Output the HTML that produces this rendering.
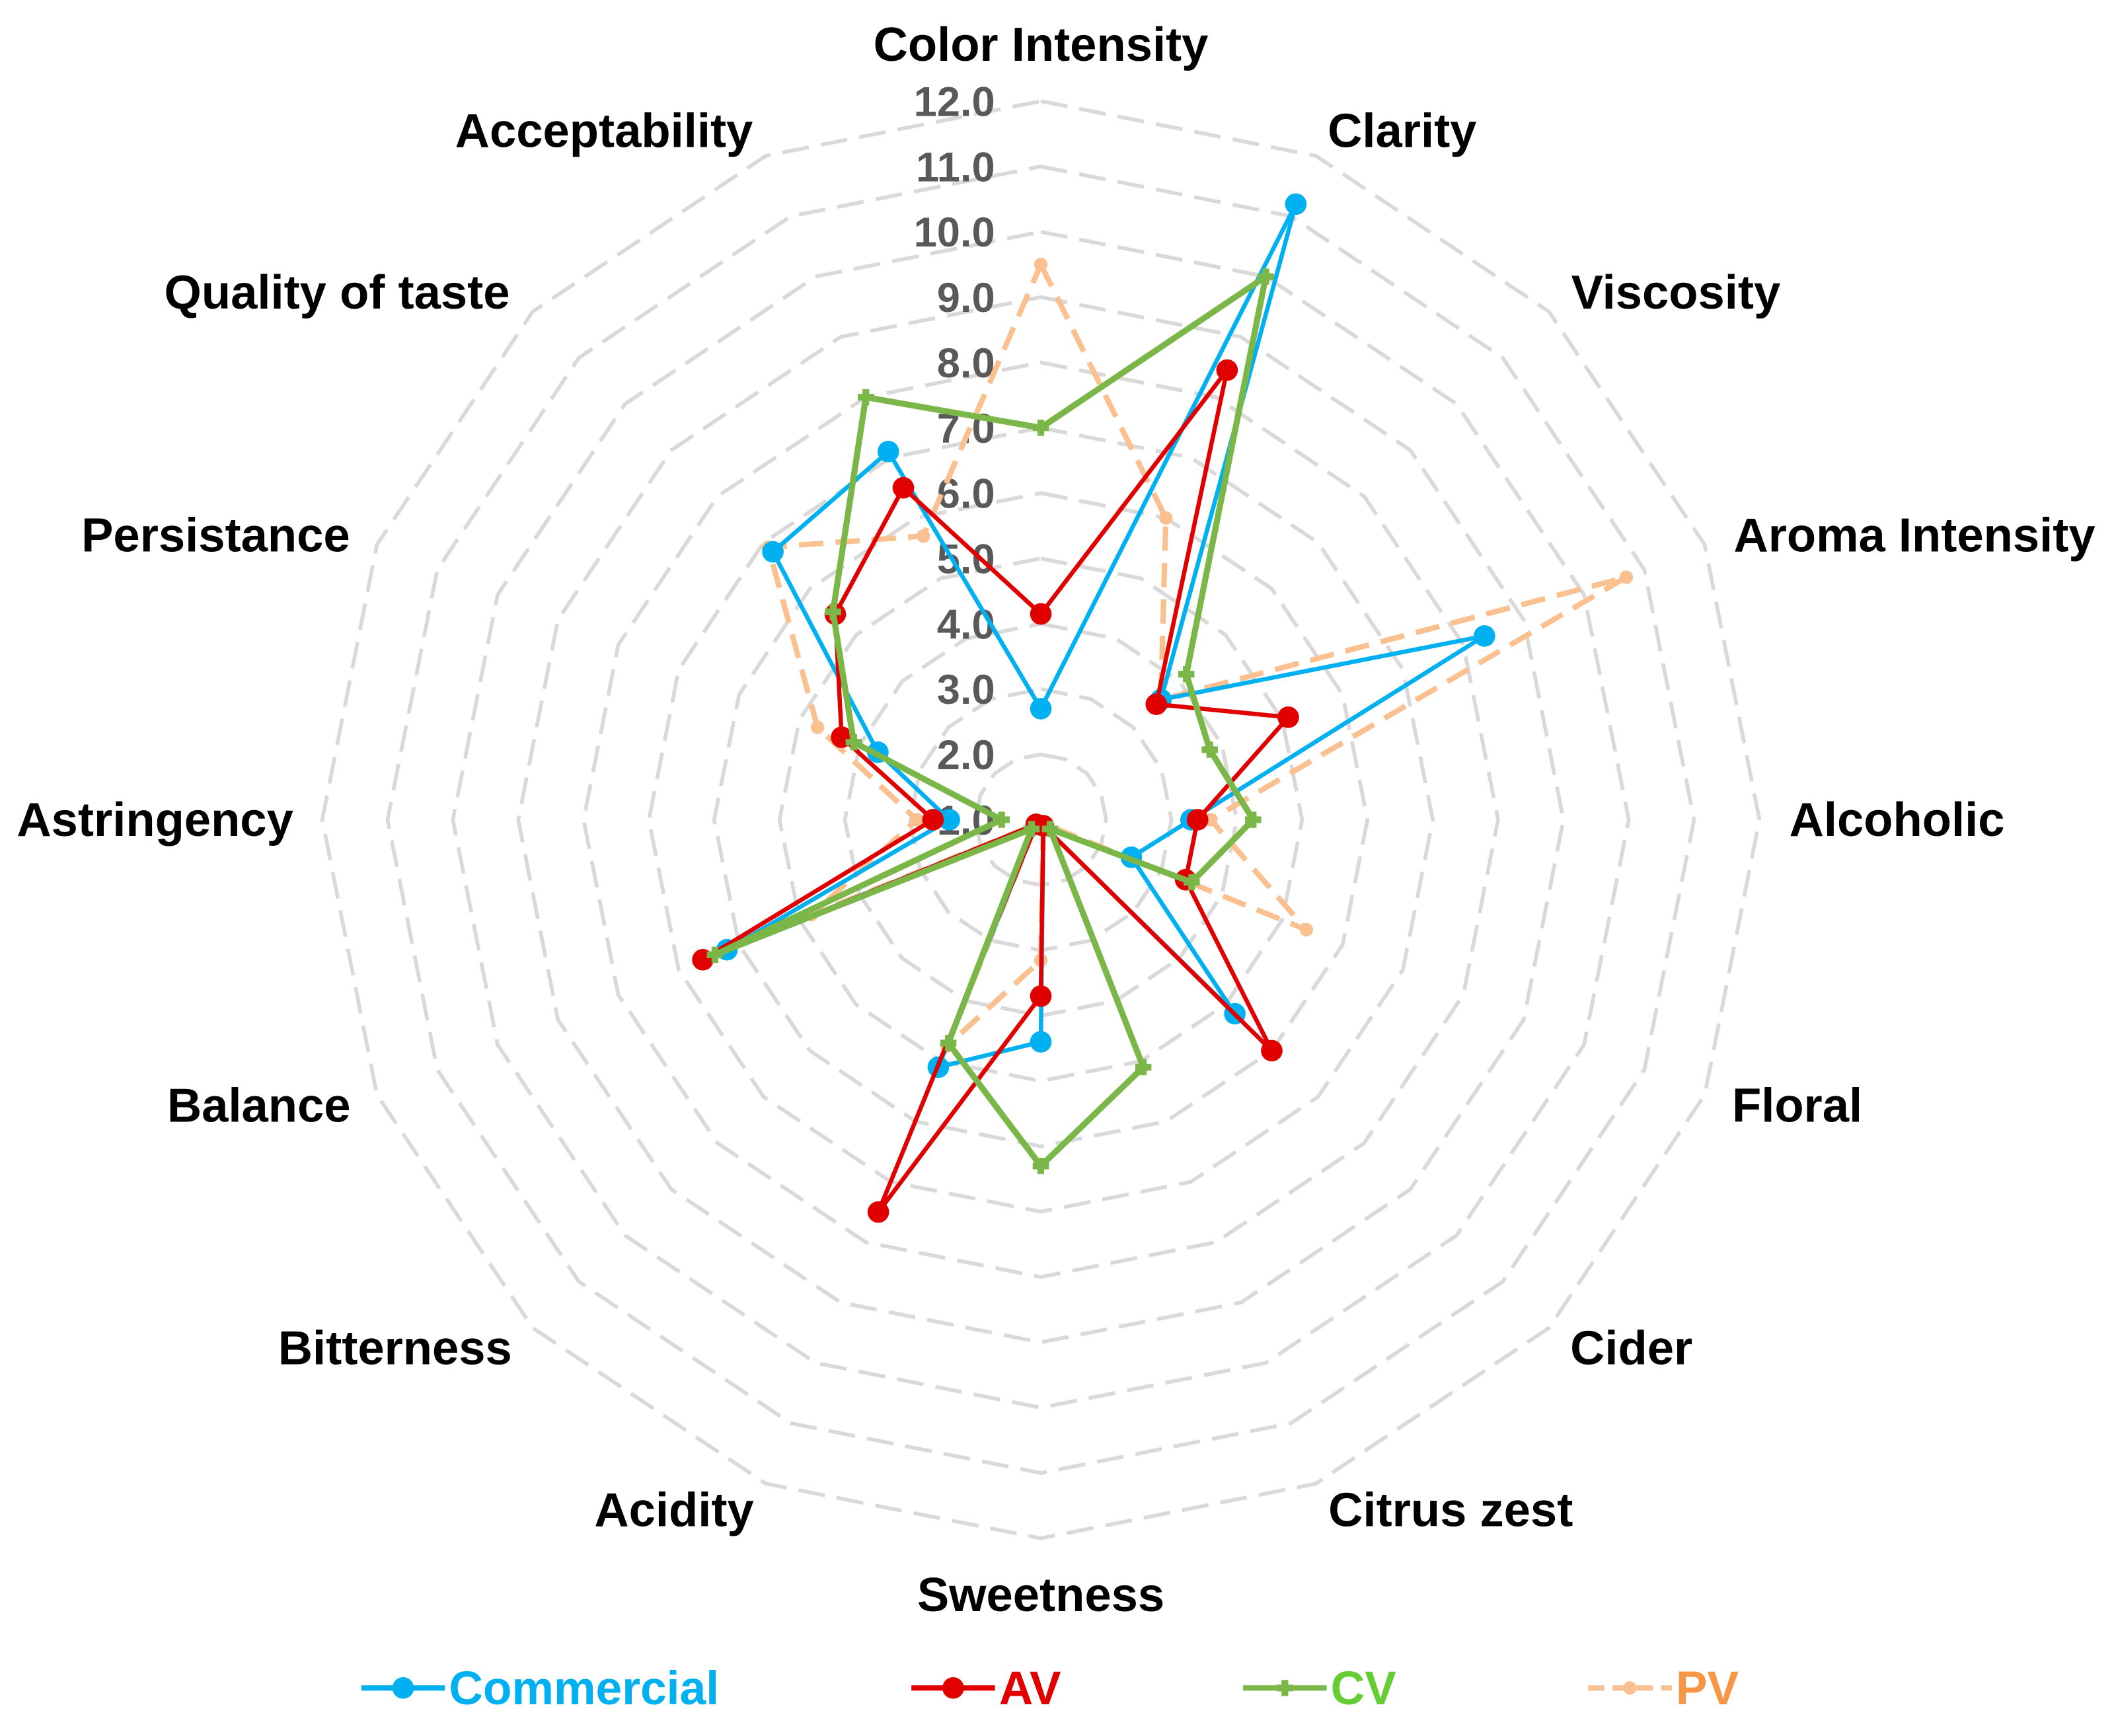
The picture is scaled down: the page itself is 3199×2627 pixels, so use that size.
<!DOCTYPE html>
<html><head><meta charset="utf-8"><style>
html,body{margin:0;padding:0;background:#fff;}
svg{display:block;font-family:"Liberation Sans",Arial,sans-serif;}
</style></head><body>
<svg id="chart" width="3199" height="2627" viewBox="0 0 1568 1287.6" xmlns="http://www.w3.org/2000/svg">
<g id="grid"></g>
<g id="ticks"></g>
<g id="cats"></g>
<g id="series"></g>
<g id="legend"></g>
</svg>
<script>
const categories=["Color Intensity","Clarity","Viscosity","Aroma Intensity","Alcoholic","Floral","Cider","Citrus zest","Sweetness","Acidity","Bitterness","Balance","Astringency","Persistance","Quality of taste","Acceptability"];
const commercial=[2.7,11.2,3.6,8.35,3.3,2.5,5.2,1.1,4.4,5.1,1.1,6.2,2.4,3.7,6.8,7.1];
const av=[4.15,8.45,3.5,5.1,3.4,3.4,6.0,1.1,3.7,7.5,1.1,6.6,2.65,4.3,5.45,6.5];
const cv=[7.0,10.0,4.15,3.8,4.25,3.5,1.2,5.1,6.3,4.7,1.2,6.4,1.6,4.1,5.5,8.0];
const pv=[9.5,6.0,3.6,10.7,3.6,5.4,1.1,1.1,3.15,4.75,1.1,4.8,2.9,4.7,6.9,5.7];
const tickLabels=["1.0","2.0","3.0","4.0","5.0","6.0","7.0","8.0","9.0","10.0","11.0","12.0"];
const labelPos=[[772,33],[1040,97],[1243,217],[1420,397],[1407,608],[1333,820],[1210,1000],[1076,1120],[772,1183],[500,1120],[293,1000],[192,820],[115,608],[160,397],[250,217],[448,97]];
const NS="http://www.w3.org/2000/svg";
const CX=772,CY=608,R=533,VMIN=1,VMAX=12;
function rScale(v){return (v-VMIN)/(VMAX-VMIN)*R;}
function pt(i,v){const a=i*2*Math.PI/categories.length;const r=rScale(v);return [CX+r*Math.sin(a),CY-r*Math.cos(a)];}
function mk(tag,attrs,parent){const e=document.createElementNS(NS,tag);for(const k in attrs)e.setAttribute(k,attrs[k]);parent.appendChild(e);return e;}
const grid=document.getElementById('grid');
for(let l=2;l<=12;l++){
  const p=categories.map((c,i)=>pt(i,l).join(',')).join(' ');
  const e=mk('polygon',{points:p,fill:'none',stroke:'#d9d9d9','stroke-width':2.8,'stroke-dasharray':'20 9'},grid);
  
  
}
const ticks=document.getElementById('ticks');
tickLabels.forEach((t,k)=>{
  const v=parseFloat(t);
  const e=mk('text',{x:738,y:CY-rScale(v)+11,'text-anchor':'end','font-size':31,'font-weight':'bold',fill:'#595959'},ticks);
  e.textContent=t;
  
  
});
const cats=document.getElementById('cats');
categories.forEach((c,i)=>{
  const e=mk('text',{x:labelPos[i][0],y:labelPos[i][1]+12,'text-anchor':'middle','font-size':35.5,'font-weight':'bold',fill:'#000'},cats);
  e.textContent=c;
  
  
});
const seriesG=document.getElementById('series');
function drawSeries(vals,color,name,dashed,msize,marker){
  const g=mk('g',{},seriesG);
  
  
  const p=vals.map((v,i)=>pt(i,v).join(',')).join(' ');
  const poly=mk('polygon',{points:p,fill:'none',stroke:color,'stroke-width':dashed?4:(name==='cv'?4.5:3.2),'stroke-dasharray':dashed?'18 9':'none','stroke-linejoin':'round'},g);
  
  
  vals.forEach((v,i)=>{
    const [x,y]=pt(i,v);
    let m;
    if(marker==='star'){m=mk('path',{d:`M${x-6},${y}L${x+6},${y}M${x},${y-6}L${x},${y+6}`,stroke:color,'stroke-width':5},g);}
    else{m=mk('circle',{cx:x,cy:y,r:msize,fill:color},g);}
    
    
  });
}
drawSeries(pv,'#fac090','pv',true,5,'circle');
drawSeries(commercial,'#00b0f0','commercial',false,8,'circle');
drawSeries(av,'#e00000','av',false,8,'circle');
drawSeries(cv,'#7ab648','cv',false,6,'star');
const lg=document.getElementById('legend');
const legendItems=[["Commercial","#00b0f0","#00b0f0",268,false,'circle'],["AV","#e00000","#e00000",676,false,'circle'],["CV","#7ab648","#66cc33",922,false,'star'],["PV","#fac090","#f79646",1178,true,'circle']];
legendItems.forEach(it=>{
  const g=mk('g',{},lg);
  
  
  const x=it[3];
  mk('line',{x1:x,y1:1252,x2:x+62,y2:1252,stroke:it[1],'stroke-width':4,'stroke-dasharray':it[4]?'12 6':'none'},g);
  if(it[5]==='star') mk('path',{d:`M${x+25},1252L${x+37},1252M${x+31},1246L${x+31},1258`,stroke:it[1],'stroke-width':5},g);
  else mk('circle',{cx:x+31,cy:1252,r:it[4]?5:8,fill:it[1]},g);
  const t=mk('text',{x:x+65,y:1264,'font-size':35,'font-weight':'bold',fill:it[2]},g);
  t.textContent=it[0];
});
</script>
</body></html>
